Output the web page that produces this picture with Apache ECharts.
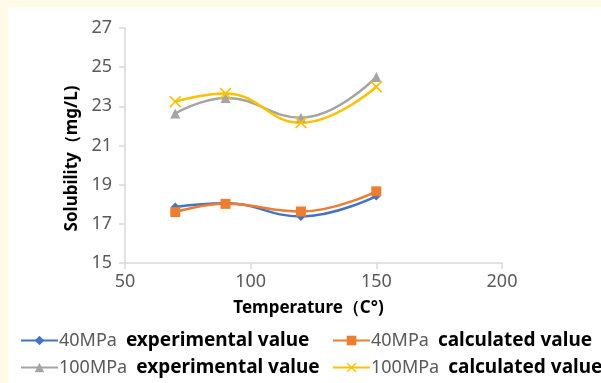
<!DOCTYPE html>
<html><head><meta charset="utf-8">
<script src="https://cdn.jsdelivr.net/npm/echarts@6/dist/echarts.min.js"></script>
<style>html,body{margin:0;padding:0;background:#fffbe8}#c{width:601px;height:383px}</style>
</head><body><div id="c"></div>
<script>
const temperatures = [70, 90, 120, 150];
const exp40 = [17.86, 18.05, 17.38, 18.42];
const calc40 = [17.6, 18.02, 17.63, 18.66];
const exp100 = [22.64, 23.43, 22.42, 24.5];
const calc100 = [23.24, 23.66, 22.16, 24.0];
const seriesNames = ['40MPa experimental value', '40MPa calculated value', '100MPa experimental value', '100MPa calculated value'];
const xTicks = [50, 100, 150, 200];
const yTicks = [15, 17, 19, 21, 23, 25, 27];

const colors = ['#4472C4', '#ED7D31', '#A5A5A5', '#FFC000'];
const xPath = 'path://M0,1L1,0L5,4L9,0L10,1L6,5L10,9L9,10L5,6L1,10L0,9L4,5Z';
const symbols = ['diamond', 'rect', 'triangle', xPath];
const symSizes = [9, 10, 10, 12];
const datasets = [exp40, calc40, exp100, calc100];

const chart = echarts.init(document.getElementById('c'));
const legendPos = [[20, 331], [332, 331], [20, 358], [332, 358]];
const legends = seriesNames.map((n, i) => ({
  data: [n], left: legendPos[i][0], top: legendPos[i][1],
  itemWidth: 37, itemHeight: 12, itemGap: 0, padding: 0,
  formatter: name => {
    const p = name.split(' ');
    return '{a|' + p[0] + '}{b|' + p.slice(1).join(' ') + '}';
  },
  textStyle: {
    padding: [0, 0, 0, -4],
    rich: {
      a: {fontFamily: 'Noto Sans', fontSize: 18, color: '#595959', padding: [0, 9, 0, 0]},
      b: {fontFamily: 'Noto Sans', fontSize: 19, fontWeight: 'bold', color: '#000'}
    }
  }
}));

chart.setOption({
  backgroundColor: '#fffbe8',
  animation: false,
  graphic: [{type: 'rect', z: -10, silent: true, shape: {x: 8, y: 7, width: 601, height: 383}, style: {fill: '#ffffff'}}],
  legend: legends,
  grid: {left: 125, right: 99, top: 28, bottom: 120, containLabel: false},
  xAxis: {
    type: 'value', min: 50, max: 200, interval: 50,
    name: 'Temperature（C°)', nameLocation: 'middle', nameGap: 37,
    nameTextStyle: {fontFamily: 'Noto Sans', fontSize: 17, fontWeight: 'bold', color: '#000', padding: [0, 10, 0, 0]},
    axisLine: {show: true, lineStyle: {color: '#D9D9D9', width: 1.5}},
    axisTick: {show: true, length: 6, lineStyle: {color: '#D9D9D9', width: 1.5}},
    splitLine: {show: false},
    axisLabel: {fontFamily: 'Noto Sans', fontSize: 18, color: '#595959', margin: 10,
      formatter: v => xTicks.includes(v) ? String(v) : ''}
  },
  yAxis: {
    type: 'value', min: 15, max: 27, interval: 2,
    name: 'Solubility（mg/L)', nameLocation: 'middle', nameGap: 38, nameRotate: 90,
    nameTextStyle: {fontFamily: 'Noto Sans', fontSize: 17, fontWeight: 'bold', color: '#000', padding: [0, 26, 0, 0]},
    axisLine: {show: true, lineStyle: {color: '#D9D9D9', width: 1.5}},
    axisTick: {show: true, length: 6, lineStyle: {color: '#D9D9D9', width: 1.5}},
    splitLine: {show: false},
    axisLabel: {fontFamily: 'Noto Sans', fontSize: 18, color: '#595959', margin: 13,
      formatter: v => yTicks.includes(v) ? String(v) : ''}
  },
  series: datasets.map((d, i) => ({
    name: seriesNames[i], type: 'line', smooth: 0.45,
    data: temperatures.map((t, j) => [t, d[j]]),
    symbol: symbols[i], symbolSize: symSizes[i], showSymbol: true,
    lineStyle: {color: colors[i], width: 2.5},
    itemStyle: {color: colors[i]}
  }))
});
</script></body></html>
